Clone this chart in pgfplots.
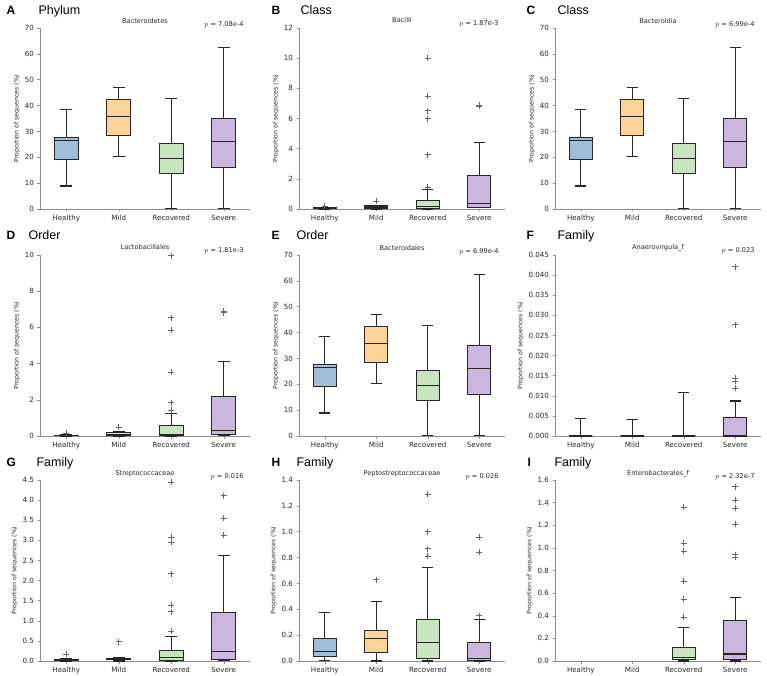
\documentclass[border=0pt]{standalone}
\usepackage{fontspec}
\setmainfont{DejaVu Sans}
\newfontfamily\lib{Liberation Sans}
\usepackage{pgfplots}
\pgfplotsset{compat=1.18}
\usepgfplotslibrary{statistics}

\definecolor{cH}{RGB}{158,190,218}
\definecolor{cM}{RGB}{253,211,154}
\definecolor{cR}{RGB}{200,229,192}
\definecolor{cS}{RGB}{203,182,221}

\pgfplotsset{
  panel/.style={
    scale only axis, width=206pt, height=181pt,
    xmin=0.5, xmax=4.5, ymin=0,
    xtick={1,2,3,4}, xticklabels={Healthy,Mild,Recovered,Severe},
    axis x line=bottom, axis y line=left,
    axis line style={-, black!45},
    tick style={black!45, line width=0.5pt},
    major tick length=2.5pt, tick align=outside,
    ticklabel style={font=\fontsize{7.1}{8}\selectfont, text=black!85},
    /pgf/number format/assume math mode=true,
    scaled y ticks=false,
    ylabel={Proportion of sequences (\%)},
    every axis y label/.style={at={(ticklabel cs:0.5)}, rotate=90, anchor=near ticklabel,
      inner sep=1.5pt, font=\fontsize{6.2}{7}\selectfont, text=black!85},
    clip=false,
    boxplot/draw direction=y,
    boxplot/box extend=0.45, boxplot/whisker extend=0.22,
  },
  bxs/.style={draw=black!85, line width=1.05pt, mark=+, mark size=3pt,
    mark options={draw=black!60, line width=0.65pt, fill=none}},
}
\newcommand{\bxp}[8]{\addplot[bxs, fill=#2, boxplot prepared={draw position=#1,
  lower whisker=#3, lower quartile=#4, median=#5, upper quartile=#6, upper whisker=#7}]
  coordinates {#8};}
\newcommand{\lbl}[2]{%
  \node[anchor=base, font=\fontsize{6.6}{7}\selectfont, text=black!85] at (rel axis cs:0.5,1) [yshift=5pt] {#1};
  \node[anchor=base east, font=\fontsize{6.6}{7}\selectfont, text=black!85] at (rel axis cs:1,1) [xshift=-3pt, yshift=2pt] {$p$ = #2};}
\newcommand{\bact}{%
  \bxp{1}{cH}{8.9}{19.2}{26.4}{27.6}{38.5}{}
  \bxp{2}{cM}{20.3}{28.5}{35.8}{42.3}{47.1}{}
  \bxp{3}{cR}{0.3}{13.7}{19.7}{25.4}{42.7}{}
  \bxp{4}{cS}{0.3}{16.2}{26.2}{34.9}{62.6}{}}

\begin{document}
\begin{tikzpicture}
\useasboundingbox (0,0) rectangle (767pt,675pt);

% A
\begin{axis}[panel, width=210pt, at={(40pt,466pt)}, anchor=south west,
  ymax=70, ytick={0,10,...,70}]
\bact
\lbl{Bacteroidetes}{7.08e-4}
\end{axis}

% B
\begin{axis}[panel, at={(299pt,466pt)}, anchor=south west,
  ymax=12, ytick={0,2,...,12}]
\bxp{1}{cH}{0}{0.01}{0.03}{0.07}{0.1}{(0,0.17)}
\bxp{2}{cM}{0}{0.04}{0.1}{0.2}{0.25}{(0,0.5)}
\bxp{3}{cR}{0}{0.02}{0.15}{0.58}{1.32}{(0,1.45) (0,3.6) (0,5.98) (0,6.53) (0,7.5) (0,10.0)}
\bxp{4}{cS}{0.1}{0.1}{0.38}{2.22}{4.4}{(0,6.82) (0,6.88)}
\lbl{Bacilli}{1.87e-3}
\end{axis}

% C
\begin{axis}[panel, at={(555pt,466pt)}, anchor=south west,
  ymax=70, ytick={0,10,...,70}]
\bact
\lbl{Bacteroidia}{6.99e-4}
\end{axis}

% D
\begin{axis}[panel, width=210pt, at={(40pt,239pt)}, anchor=south west,
  ymax=10, ytick={0,2,...,10}]
\bxp{1}{cH}{0}{0.005}{0.02}{0.05}{0.08}{(0,0.15)}
\bxp{2}{cM}{0}{0.05}{0.1}{0.18}{0.22}{(0,0.48)}
\bxp{3}{cR}{0}{0.02}{0.08}{0.57}{1.23}{(0,1.44) (0,1.84) (0,3.54) (0,5.84) (0,6.54) (0,9.96)}
\bxp{4}{cS}{0.05}{0.1}{0.33}{2.19}{4.13}{(0,6.82) (0,6.88)}
\lbl{Lactobacillales}{1.81e-3}
\end{axis}

% E
\begin{axis}[panel, at={(299pt,239pt)}, anchor=south west,
  ymax=70, ytick={0,10,...,70}]
\bact
\lbl{Bacteroidales}{6.99e-4}
\end{axis}

% F  (values in units of 0.001 %, labelled in %)
\begin{axis}[panel, at={(555pt,239pt)}, anchor=south west,
  ymax=45, ytick={0,5,...,45},
  yticklabels={0.000,0.005,0.010,0.015,0.020,0.025,0.030,0.035,0.040,0.045}]
\bxp{1}{cH}{0}{0}{0}{0}{4.4}{}
\bxp{2}{cM}{0}{0}{0}{0}{4.0}{}
\bxp{3}{cR}{0}{0}{0}{0}{10.7}{}
\bxp{4}{cS}{0}{0}{0}{4.7}{8.7}{(0,11.9) (0,13.7) (0,14.3) (0,27.7) (0,42.1)}
\lbl{Anaerovirgula\_f}{0.023}
\end{axis}

% G
\begin{axis}[panel, width=210pt, at={(40pt,14pt)}, anchor=south west,
  ymax=4.5, ytick={0,0.5,...,4.5},
  yticklabel style={/pgf/number format/.cd, fixed, fixed zerofill, precision=1}]
\bxp{1}{cH}{0}{0.005}{0.01}{0.03}{0.06}{(0,0.165)}
\bxp{2}{cM}{0}{0.03}{0.05}{0.07}{0.09}{(0,0.48)}
\bxp{3}{cR}{0}{0.01}{0.08}{0.27}{0.62}{(0,0.75) (0,1.23) (0,1.39) (0,2.17) (0,2.95) (0,3.08) (0,4.44)}
\bxp{4}{cS}{0.01}{0.04}{0.24}{1.2}{2.62}{(0,3.13) (0,3.55) (0,4.11)}
\lbl{Streptococcaceae}{0.016}
\end{axis}

% H
\begin{axis}[panel, at={(299pt,14pt)}, anchor=south west,
  ymax=1.4, ytick={0,0.2,...,1.4},
  yticklabel style={/pgf/number format/.cd, fixed, fixed zerofill, precision=1}]
\bxp{1}{cH}{0.005}{0.034}{0.07}{0.175}{0.374}{}
\bxp{2}{cM}{0}{0.064}{0.175}{0.235}{0.46}{(0,0.63)}
\bxp{3}{cR}{0}{0.023}{0.144}{0.32}{0.72}{(0,0.81) (0,0.87) (0,1.0) (0,1.29)}
\bxp{4}{cS}{0}{0.005}{0.02}{0.14}{0.32}{(0,0.35) (0,0.84) (0,0.96)}
\lbl{Peptostreptococcaceae}{0.026}
\end{axis}

% I
\begin{axis}[panel, at={(555pt,14pt)}, anchor=south west,
  ymax=1.6, ytick={0,0.2,...,1.6},
  yticklabel style={/pgf/number format/.cd, fixed, fixed zerofill, precision=1}]
\bxp{3}{cR}{0}{0.01}{0.035}{0.12}{0.295}{(0,0.39) (0,0.545) (0,0.705) (0,0.97) (0,1.04) (0,1.36)}
\bxp{4}{cS}{0}{0.01}{0.062}{0.36}{0.56}{(0,0.92) (0,0.94) (0,1.21) (0,1.35) (0,1.42) (0,1.54)}
\lbl{Enterobacterales\_f}{2.32e-7}
\end{axis}

% panel headings
\tikzset{pl/.style={anchor=base west, font=\lib\bfseries\fontsize{12}{13}\selectfont},
         pt/.style={anchor=base west, font=\lib\fontsize{12.5}{14}\selectfont}}
\node[pl] at (3pt,660pt) {A};   \node[pt] at (35pt,660pt) {Phylum};
\node[pl] at (268pt,660pt) {B}; \node[pt] at (297pt,660pt) {Class};
\node[pl] at (523pt,660pt) {C}; \node[pt] at (554pt,660pt) {Class};
\node[pl] at (3pt,435pt) {D};   \node[pt] at (25pt,435pt) {Order};
\node[pl] at (268pt,435pt) {E}; \node[pt] at (293pt,435pt) {Order};
\node[pl] at (523pt,435pt) {F}; \node[pt] at (554pt,435pt) {Family};
\node[pl] at (3pt,209pt) {G};   \node[pt] at (33pt,209pt) {Family};
\node[pl] at (268pt,209pt) {H}; \node[pt] at (293pt,209pt) {Family};
\node[pl] at (524pt,209pt) {I}; \node[pt] at (551pt,209pt) {Family};
\end{tikzpicture}
\end{document}
